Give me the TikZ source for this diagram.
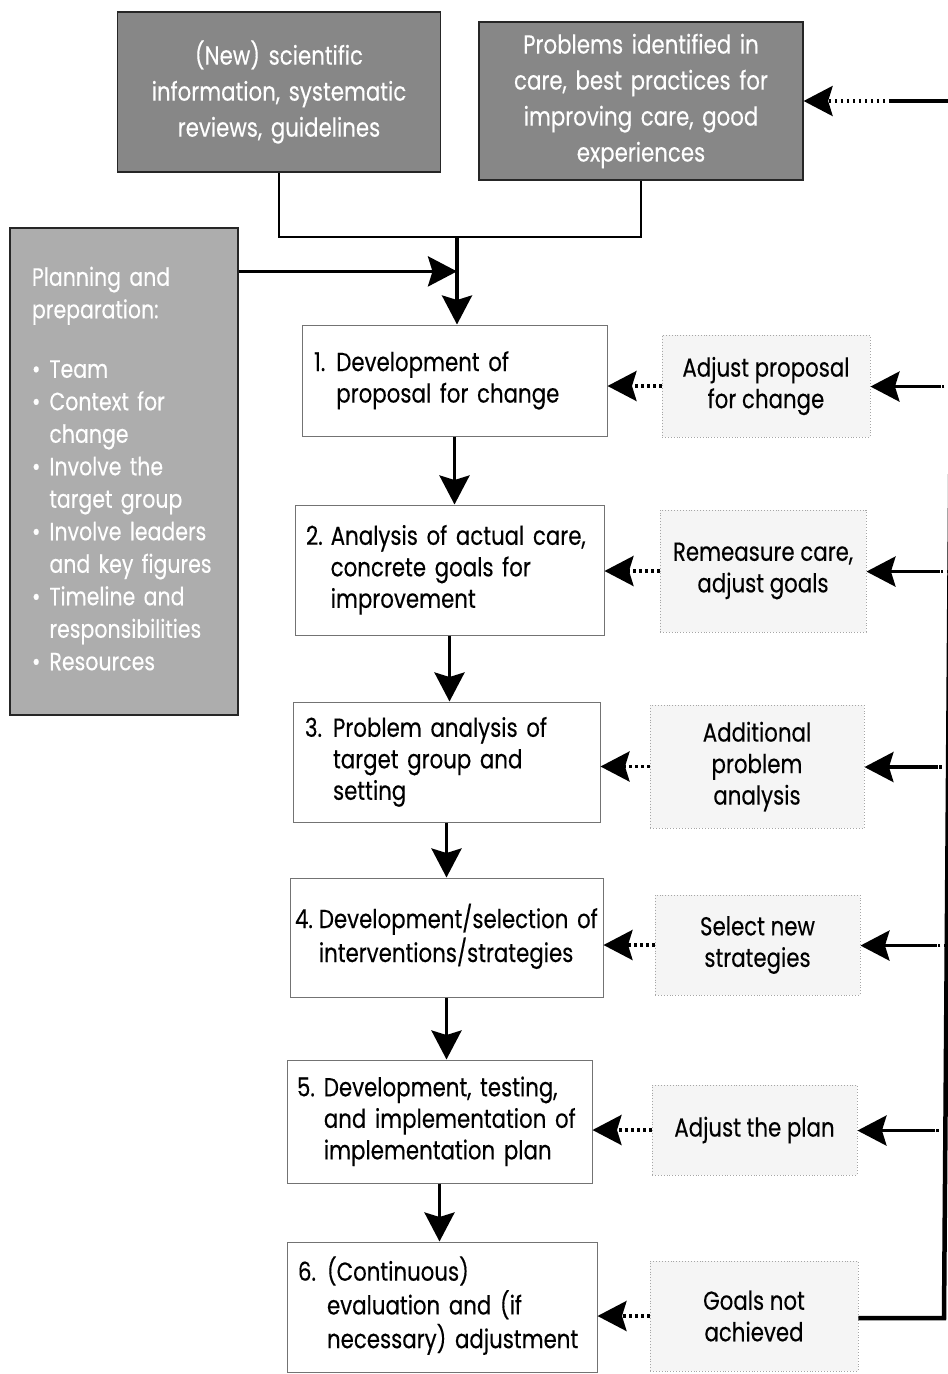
\documentclass[tikz,border=0pt]{standalone}
\usepackage{fontspec}
\setmainfont[FakeStretch=0.82,FakeBold=0.3]{Poppins}
\usetikzlibrary{arrows.meta,calc}
\begin{document}
\begin{tikzpicture}[x=1pt,y=-1pt]
\tikzset{
  txt/.style={font=\fontsize{26}{31.5}\selectfont},
  mainbox/.style={txt, draw=black!55, line width=1pt, fill=white, inner ysep=0pt, inner xsep=12pt, align=left},
  sidebox/.style={txt, draw=black!35, dotted, line width=0.9pt, fill=black!4, inner sep=0pt, align=center},
  srcbox/.style={font=\fontsize{26}{36}\selectfont, draw=black!85, line width=1.2pt, fill=black!47, text=white, inner sep=0pt, align=center},
  planbox/.style={font=\fontsize{25}{32.5}\selectfont, draw=black!85, line width=1.2pt, fill=black!32, text=white, inner xsep=22pt, inner ysep=0pt, align=left},
  bigtip/.style={-{Stealth[length=29pt,width=30pt,inset=4.5pt]}},
  flow/.style={bigtip, line width=3.6pt},
  joinline/.style={line width=1.8pt},
  backflow/.style={bigtip, line width=3.4pt, dash pattern=on 2.5pt off 3.5pt},
  fbline/.style={line width=4.5pt},
  fbdots/.style={line width=3.4pt, dash pattern=on 2.5pt off 4pt},
}
\newcommand\stepnum[3][11pt]{\begin{tabular}{@{}l@{\hspace{#1}}l@{}}#2 & #3\end{tabular}}
\useasboundingbox (0,0) rectangle (948,1374);
\fill[white] (0,0) rectangle (948,1374);

% sources of change
\node[srcbox, minimum width=323pt, minimum height=160pt, text width=310pt] (A) at (279,92)
  {(New) scientific\\information, systematic\\reviews, guidelines};
\node[srcbox, minimum width=324pt, minimum height=158pt, text width=310pt] (B) at (641,101)
  {Problems identified in\\care, best practices for\\improving care, good\\experiences};

% planning and preparation
\node[planbox, minimum width=228pt, minimum height=487pt, text width=184pt] (C) at (124,471.5)
  {\begin{tabular}{@{}l@{\hspace{9pt}}l@{}}
   \multicolumn{2}{@{}l}{Planning and}\\
   \multicolumn{2}{@{}l}{preparation:}\\[27pt]
   \textbullet & Team\\
   \textbullet & Context for\\
   & change\\
   \textbullet & Involve the\\
   & target group\\
   \textbullet & Involve leaders\\
   & and key figures\\
   \textbullet & Timeline and\\
   & responsibilities\\
   \textbullet & Resources
  \end{tabular}};

% main steps
\node[mainbox, minimum height=111pt, text width=281pt] (b1) at (454.5,380.5)
  {\stepnum{1.}{Development of\\ & proposal for change}};
\node[mainbox, minimum height=130pt, text width=287pt, inner xsep=11pt] (b2) at (449.5,570)
  {\stepnum[8pt]{2.}{Analysis of actual care,\\ & concrete goals for\\ & improvement}};
\node[mainbox, minimum height=120pt, text width=283pt] (b3) at (446.5,762)
  {\stepnum{3.}{Problem analysis of\\ & target group and\\ & setting}};
\node[mainbox, minimum height=119pt, text width=303pt, inner xsep=5pt] (b4) at (446.5,937.5)
  {\stepnum[6pt]{4.}{Development/selection of\\ & interventions/strategies}};
\node[mainbox, minimum height=123pt, text width=285pt, inner xsep=10pt] (b5) at (439.5,1121.5)
  {\stepnum[9pt]{5.}{Development, testing,\\ & and implementation of\\ & implementation plan}};
\node[mainbox, minimum height=130pt, text width=288pt, inner xsep=11pt] (b6) at (442,1307)
  {\stepnum{6.}{(Continuous)\\ & evaluation and (if\\ & necessary) adjustment}};

% corrective actions
\node[sidebox, minimum width=208pt, minimum height=102pt] (r1) at (766,386) {Adjust proposal\\for change};
\node[sidebox, minimum width=206pt, minimum height=122pt] (r2) at (763,571) {Remeasure care,\\adjust goals};
\node[sidebox, minimum width=214pt, minimum height=123pt] (r3) at (757,766.5) {Additional\\problem\\analysis};
\node[sidebox, minimum width=205pt, minimum height=100pt] (r4) at (757.5,945) {Select new\\strategies};
\node[sidebox, minimum width=205pt, minimum height=90pt] (r5) at (754.5,1130) {Adjust the plan};
\node[sidebox, minimum width=208pt, minimum height=110pt] (r6) at (754,1316) {Goals not\\achieved};

% joining the two sources
\coordinate (j) at (457,237);
\draw[joinline] (A.south) |- (B.south |- j) -- (B.south);
\draw[flow] (j) -- (j |- b1.north);
\coordinate (cout) at ([yshift=-44pt]C.north east);
\draw[flow] (cout) -- (j |- cout);

% step to step
\foreach \u/\v in {b1/b2,b2/b3,b3/b4,b4/b5,b5/b6}
  \draw[flow] (\u.south) -- (\u.south |- \v.north);

% corrections back into the steps
\foreach \r/\b in {r1/b1,r2/b2,r3/b3,r4/b4,r5/b5,r6/b6}
  \draw[backflow] (\r.west) -- (\r.west -| \b.east);

% feedback loop along the right edge
\coordinate (ftop) at (953,101);
\coordinate (fbot) at (944,1318);
\draw[fbline] (ftop) -- (fbot) -- (r6.east |- fbot);
\draw[fbline] (ftop) -- ++(-62,0) coordinate (tq);
\draw[backflow] (tq) -- (B.east);
\foreach \r in {r1,r2,r3,r4,r5} {
  \coordinate (p) at ($(ftop)!(\r.east)!(fbot)$);
  \draw[fbdots] (p) -- ++(-10,0) coordinate (q);
  \draw[flow] (q) -- (\r.east |- q);
}
\end{tikzpicture}
\end{document}
